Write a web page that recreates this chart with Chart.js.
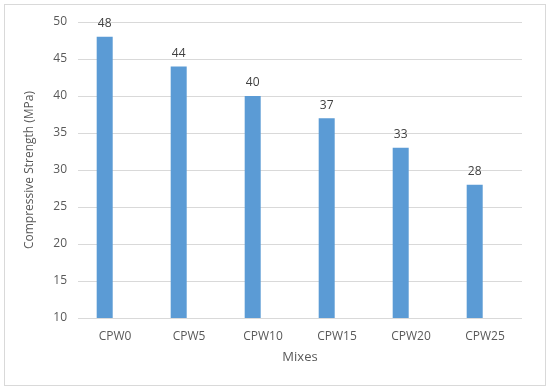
<!DOCTYPE html>
<html>
<head>
<meta charset="utf-8">
<script src="https://cdn.jsdelivr.net/npm/chart.js@4/dist/chart.umd.min.js"></script>
<style>
  html, body { margin: 0; padding: 0; background: #ffffff; }
  #wrap { width: 550px; height: 391px; position: relative; }
</style>
</head>
<body>
<div id="wrap"><canvas id="c" width="550" height="391"></canvas></div>
<script>
const categories = ["CPW0", "CPW5", "CPW10", "CPW15", "CPW20", "CPW25"];
const strength = [48, 44, 40, 37, 33, 28];
const emptySeries = [null, null, null, null, null, null];
const yTicks = [10, 15, 20, 25, 30, 35, 40, 45, 50];

const FONT = "'Open Sans', 'Segoe UI', 'DejaVu Sans', sans-serif";

const frame = {
  id: 'frame',
  beforeDraw(chart) {
    const ctx = chart.ctx;
    ctx.save();
    ctx.fillStyle = '#ffffff';
    ctx.fillRect(0, 0, chart.width, chart.height);
    ctx.strokeStyle = '#d9d9d9';
    ctx.lineWidth = 1;
    ctx.strokeRect(4.5, 4.5, 541, 381);
    ctx.restore();
  }
};

const valueLabels = {
  id: 'valueLabels',
  afterDatasetsDraw(chart) {
    const ctx = chart.ctx;
    const meta = chart.getDatasetMeta(0);
    ctx.save();
    ctx.font = "12px " + FONT;
    ctx.fillStyle = '#404040';
    ctx.textAlign = 'center';
    ctx.textBaseline = 'middle';
    meta.data.forEach((bar, i) => {
      ctx.fillText(String(strength[i]), bar.x, bar.y - 13);
    });
    ctx.restore();
  }
};

new Chart(document.getElementById('c'), {
  type: 'bar',
  data: {
    labels: categories,
    datasets: [
      { data: strength, backgroundColor: '#5b9bd5', borderWidth: 0, categoryPercentage: 0.557, barPercentage: 0.777 },
      { data: emptySeries, backgroundColor: '#ed7d31', borderWidth: 0, categoryPercentage: 0.557, barPercentage: 0.777 }
    ]
  },
  options: {
    responsive: false,
    animation: false,
    devicePixelRatio: 1,
    layout: { padding: { left: 22, right: 28, top: 22, bottom: 26 } },
    plugins: { legend: { display: false }, tooltip: { enabled: false } },
    scales: {
      x: {
        grid: { display: false, drawTicks: false },
        border: { display: false },
        ticks: { color: '#595959', font: { family: FONT, size: 12 }, padding: 11, maxRotation: 0 },
        title: { display: true, text: 'Mixes', color: '#595959', font: { family: FONT, size: 13 }, padding: { top: 0, bottom: 0 } },
        afterFit(scale) { scale.height = 47; }
      },
      y: {
        min: 10, max: 50,
        afterBuildTicks(scale) { scale.ticks = yTicks.map(v => ({ value: v })); },
        grid: { color: '#d9d9d9', drawTicks: false, lineWidth: 1 },
        border: { display: false },
        ticks: { color: '#595959', font: { family: FONT, size: 12 }, padding: 11 },
        title: { display: true, text: 'Compressive Strength (MPa)', color: '#595959', font: { family: FONT, size: 12 }, padding: { top: 0, bottom: 0 } },
        afterFit(scale) { scale.width = 56; }
      }
    }
  },
  plugins: [frame, valueLabels]
});
</script>
</body>
</html>
